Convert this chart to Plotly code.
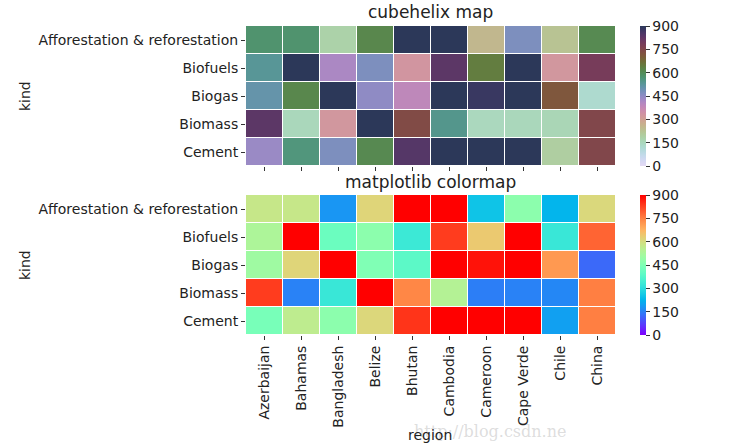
import numpy as np
import plotly.graph_objects as go

kinds = ["Afforestation & reforestation", "Biofuels", "Biogas", "Biomass", "Cement"]
regions = ["Azerbaijan", "Bahamas", "Bangladesh", "Belize", "Bhutan",
           "Cambodia", "Cameroon", "Cape Verde", "Chile", "China"]

afforestation = [575, 575, 180, 617, 1000, 1000, 252, 472, 225, 610]
biofuels = [530, 1000, 415, 472, 330, 832, 640, 1000, 325, 785]
biogas = [505, 617, 1000, 450, 387, 1000, 880, 1000, 715, 122]
biomass = [832, 153, 325, 1000, 740, 543, 148, 153, 160, 750]
cement = [437, 560, 472, 612, 842, 1000, 1000, 1000, 194, 750]
z = [afforestation, biofuels, biogas, biomass, cement]

cbar_ticks = [0, 150, 300, 450, 600, 750, 900]
vmin, vmax = 0, 900


def cubehelix_scale(start=1.5, rot=3, gamma=0.8, hue=0.8, light=0.85, dark=0.15, n=64):
    xs = np.linspace(light, dark, n)
    out = []
    for i, x in enumerate(xs):
        xg = x ** gamma
        a = hue * xg * (1 - xg) / 2
        phi = 2 * np.pi * (start / 3 + rot * x)
        r = xg + a * (-0.14861 * np.cos(phi) + 1.78277 * np.sin(phi))
        g = xg + a * (-0.29227 * np.cos(phi) - 0.90649 * np.sin(phi))
        b = xg + a * (1.97294 * np.cos(phi))
        r, g, b = [int(round(255 * min(max(v, 0), 1))) for v in (r, g, b)]
        out.append([i / (n - 1), f"rgb({r},{g},{b})"])
    return out


def rainbow_scale(n=64):
    out = []
    for i in range(n):
        x = i / (n - 1)
        r = min(max(abs(2 * x - 0.5), 0), 1)
        g = min(max(np.sin(np.pi * x), 0), 1)
        b = min(max(np.cos(np.pi * x / 2), 0), 1)
        out.append([x, f"rgb({int(round(r*255))},{int(round(g*255))},{int(round(b*255))})"])
    return out


W, H = 747, 443
FONT = "DejaVu Sans"
x0, x1 = 246 / W, 616 / W
top_dom = [(H - 166) / H, (H - 26) / H]
bot_dom = [(H - 335) / H, (H - 195) / H]

fig = go.Figure()


def cbar(dom):
    return dict(
        x=640 / W, xanchor="left", xpad=0, ypad=0,
        y=(dom[0] + dom[1]) / 2, yanchor="middle",
        thickness=6, thicknessmode="pixels",
        len=(dom[1] - dom[0]) * H, lenmode="pixels",
        tickvals=cbar_ticks, ticks="outside", ticklen=4, tickcolor="#333",
        tickfont=dict(family=FONT, size=14, color="#222"),
        outlinewidth=0,
    )


fig.add_trace(go.Heatmap(
    z=z, x=regions, y=kinds, zmin=vmin, zmax=vmax,
    colorscale=cubehelix_scale(), xgap=1, ygap=1,
    colorbar=cbar(top_dom), xaxis="x", yaxis="y",
))
fig.add_trace(go.Heatmap(
    z=z, x=regions, y=kinds, zmin=vmin, zmax=vmax,
    colorscale=rainbow_scale(), xgap=1, ygap=1,
    colorbar=cbar(bot_dom), xaxis="x2", yaxis="y2",
))

axfont = dict(family=FONT, size=14, color="#222")
common_x = dict(domain=[x0, x1], ticks="outside", ticklen=4, tickcolor="#333",
                showgrid=False, zeroline=False, showline=False, tickfont=axfont,
                automargin=False)
common_y = dict(ticks="outside", ticklen=4, tickcolor="#333", autorange="reversed",
                showgrid=False, zeroline=False, showline=False, tickfont=axfont,
                automargin=False)


def ann(text, x, y, size=14, angle=0, family=FONT, color="#222"):
    return dict(text=text, x=x / W, y=(H - y) / H, xref="paper", yref="paper",
                xanchor="center", yanchor="middle", textangle=angle, showarrow=False,
                font=dict(family=family, size=size, color=color))


ymid_top = 96
ymid_bot = 265

fig.update_layout(
    width=W, height=H,
    margin=dict(l=0, r=0, t=0, b=0, autoexpand=False),
    paper_bgcolor="white", plot_bgcolor="white",
    font=dict(family=FONT, color="#222"),
    xaxis=dict(**common_x, anchor="y", showticklabels=False),
    yaxis=dict(**common_y, domain=top_dom, anchor="x"),
    xaxis2=dict(**common_x, anchor="y2", tickangle=-90),
    yaxis2=dict(**common_y, domain=bot_dom, anchor="x2"),
    annotations=[
        ann("cubehelix map", 431, 12, size=17),
        ann("matplotlib colormap", 431, 182, size=17),
        ann("kind", 25, ymid_top, angle=-90),
        ann("kind", 25, ymid_bot, angle=-90),
        ann("http://blog.csdn.ne", 490, 431, size=16, family="DejaVu Serif",
            color="rgba(180,180,180,0.45)"),
        ann("region", 430, 435),
    ],
)

fig.write_html("out.html", config={"displayModeBar": False},
               post_script="document.body.style.margin='0';document.body.style.padding='0';")
